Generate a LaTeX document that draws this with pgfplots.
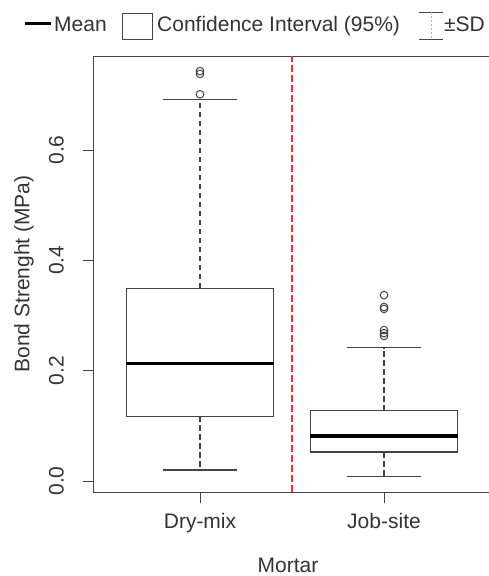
\documentclass[border=0pt]{standalone}
\usepackage{fontspec}
\setmainfont{Liberation Sans}
\usepackage{pgfplots}
\pgfplotsset{compat=1.18}
\usepgfplotslibrary{statistics}
\definecolor{axgray}{HTML}{444444}
\definecolor{txtgray}{HTML}{333333}
\definecolor{redline}{HTML}{E3343B}
\pgfplotsset{
  boxplot/draw/lower whisker/.code={%
    \draw[/pgfplots/boxplot/every whisker/.try, dash pattern=on 5.5pt off 3.5pt]
      (boxplot box cs:\pgfplotsboxplotvalue{lower quartile},0.5) --
      (boxplot box cs:\pgfplotsboxplotvalue{lower whisker},0.5);
    \draw[/pgfplots/boxplot/every whisker/.try]
      (boxplot whisker cs:\pgfplotsboxplotvalue{lower whisker},0) --
      (boxplot whisker cs:\pgfplotsboxplotvalue{lower whisker},1);
  },
  boxplot/draw/upper whisker/.code={%
    \draw[/pgfplots/boxplot/every whisker/.try, dash pattern=on 5.5pt off 3.5pt]
      (boxplot box cs:\pgfplotsboxplotvalue{upper quartile},0.5) --
      (boxplot box cs:\pgfplotsboxplotvalue{upper whisker},0.5);
    \draw[/pgfplots/boxplot/every whisker/.try]
      (boxplot whisker cs:\pgfplotsboxplotvalue{upper whisker},0) --
      (boxplot whisker cs:\pgfplotsboxplotvalue{upper whisker},1);
  },
}
\begin{document}
\fontsize{21}{25}\selectfont
\begin{tikzpicture}[font=\fontsize{21}{25}\selectfont]
\useasboundingbox (0pt,0pt) rectangle (488pt,576pt);
\begin{axis}[
  at={(94pt,84pt)}, anchor=south west,
  width=396pt, height=436pt, scale only axis,
  xmin=0.4239, xmax=2.576, ymin=-0.0199, ymax=0.7704,
  xtick={1,2}, xticklabels={Dry-mix,Job-site},
  ytick={0,0.2,0.4,0.6}, yticklabels={0.0,0.2,0.4,0.6},
  tick align=outside, major tick length=11pt,
  xtick pos=left, ytick pos=left,
  tick style={axgray, line width=0.8pt},
  axis line style={axgray, line width=1pt},
  tick label style={font=\fontsize{21}{25}\selectfont, text=txtgray},
  yticklabel style={rotate=90, anchor=south, inner sep=0pt},
  xticklabel style={anchor=north, inner sep=0pt},
  yticklabel shift=19pt,
  xticklabel shift=10pt,
  every axis y label/.style={at={(rel axis cs:-0.1515,0.5)}, rotate=90, anchor=south, inner sep=0pt, font=\fontsize{21}{25}\selectfont, text=txtgray},
  every axis x label/.style={at={(rel axis cs:0.49,-0.1835)}, anchor=base, inner sep=0pt, font=\fontsize{21}{25}\selectfont, text=txtgray},
  ylabel={Bond Strenght (MPa)},
  xlabel={Mortar},
  boxplot/draw direction=y,
  boxplot/every median/.style={line width=3.5pt, black},
  boxplot/every box/.style={draw=axgray, line width=1.2pt},
  boxplot/every whisker/.style={draw=axgray, line width=1.2pt},
  clip=false,
]
\addplot[redline, line width=2pt, dash pattern=on 7pt off 3pt] coordinates {(1.5,-0.0199) (1.5,0.7704)};
\addplot[boxplot prepared={median=0.213, upper quartile=0.349, lower quartile=0.117,
    upper whisker=0.692, lower whisker=0.020, draw position=1,
    box extend=0.8, whisker extend=0.4},
  boxplot/draw direction=y,
  draw=axgray, line width=1.2pt, mark=o, mark size=3.8pt, mark options={axgray, line width=1pt, solid}]
  table[row sep=\\, y index=0] {data\\ 0.743\\ 0.738\\ 0.701\\};
\addplot[boxplot prepared={median=0.082, upper quartile=0.1275, lower quartile=0.0526,
    upper whisker=0.242, lower whisker=0.0085, draw position=2,
    box extend=0.8, whisker extend=0.4},
  boxplot/draw direction=y,
  draw=axgray, line width=1.2pt, mark=o, mark size=3.8pt, mark options={axgray, line width=1pt, solid}]
  table[row sep=\\, y index=0] {data\\ 0.337\\ 0.3154\\ 0.312\\ 0.2737\\ 0.268\\ 0.263\\};
\end{axis}
% legend
\draw[line width=3pt, black] (25pt,552pt) -- (51pt,552pt);
\node[anchor=base west, inner sep=0pt, text=txtgray] at (54pt,544pt) {Mean};
\draw[axgray, line width=0.8pt] (122pt,537pt) rectangle (152pt,563pt);
\node[anchor=base west, inner sep=0pt, text=txtgray] at (157pt,544pt) {Confidence Interval (95\%)};
\draw[axgray, line width=0.8pt] (419pt,564pt) -- (443pt,564pt) (419pt,537pt) -- (443pt,537pt);
\draw[gray!60, dash pattern=on 2pt off 2pt, line width=0.6pt] (431pt,564pt) -- (431pt,537pt);
\node[anchor=base west, inner sep=0pt, text=txtgray] at (444pt,544pt) {±SD};
\end{tikzpicture}
\end{document}
